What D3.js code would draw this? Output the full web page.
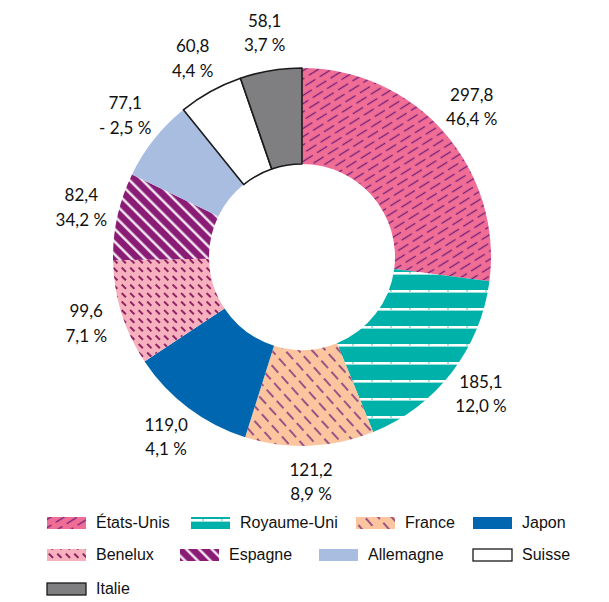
<!DOCTYPE html>
<html><head><meta charset="utf-8">
<script src="https://cdn.jsdelivr.net/npm/d3@7"></script>
<style>body{margin:0;background:#fff}</style>
</head><body>
<svg id="c" width="609" height="602"></svg>
<script>
const countries = ["États-Unis","Royaume-Uni","France","Japon","Benelux","Espagne","Allemagne","Suisse","Italie"];
const values = [297.8,185.1,121.2,119.0,99.6,82.4,77.1,60.8,58.1];
const growth = [46.4,12.0,8.9,4.1,7.1,34.2,-2.5,4.4,3.7];
const legendOrder = [["États-Unis","Royaume-Uni","France","Japon"],["Benelux","Espagne","Allemagne","Suisse"],["Italie"]];

const svg = d3.select("#c");
const defs = svg.append("defs");
const purple = "#74207a";

function pat(id, w, h, bg, rot, draw){
  const p = defs.append("pattern").attr("id",id).attr("patternUnits","userSpaceOnUse")
    .attr("width",w).attr("height",h);
  if(rot) p.attr("patternTransform","rotate("+rot+")");
  p.append("rect").attr("width",w).attr("height",h).attr("fill",bg);
  draw(p);
}
// USA: pink with purple "/" dashes
pat("p0",17,14,"#f06d95",-32,p=>{
  p.append("line").attr("x1",0).attr("x2",12).attr("y1",3.5).attr("y2",3.5).attr("stroke",purple).attr("stroke-width",1.3);
  p.append("line").attr("x1",8.5).attr("x2",17).attr("y1",10.5).attr("y2",10.5).attr("stroke",purple).attr("stroke-width",1.3);
  p.append("line").attr("x1",0).attr("x2",3.5).attr("y1",10.5).attr("y2",10.5).attr("stroke",purple).attr("stroke-width",1.3);
});
// UK: teal with white horizontal stripes
pat("p1",19,18,"#00b1aa",0,p=>{
  p.append("rect").attr("x",0).attr("y",15).attr("width",19).attr("height",2.6).attr("fill","#fff");
  p.append("rect").attr("x",12).attr("y",15).attr("width",2).attr("height",2.6).attr("fill","#a6e0dd");
});
// France: peach with purple "\" dashes
pat("p2",15,10,"#fbc59f",48,p=>{
  p.append("line").attr("x1",0).attr("x2",10).attr("y1",5).attr("y2",5).attr("stroke",purple).attr("stroke-width",1.4);
});
// Japon
pat("p3",10,10,"#0066b0",0,p=>{});
// Benelux: light pink with dark "\" short dashes
pat("p4",12,12,"#f7b1be",45,p=>{
  p.append("line").attr("x1",0).attr("x2",6).attr("y1",3).attr("y2",3).attr("stroke","#8a1a5e").attr("stroke-width",1.9);
  p.append("line").attr("x1",6).attr("x2",12).attr("y1",9).attr("y2",9).attr("stroke","#8a1a5e").attr("stroke-width",1.9);
});
// Espagne: purple with white "\" lines
pat("p5",10,9,"#8a1c76",45,p=>{
  p.append("rect").attr("x",0).attr("y",3.5).attr("width",10).attr("height",2.2).attr("fill","#fff");
});
pat("p6",10,10,"#a9bde1",0,p=>{});
pat("p7",10,10,"#ffffff",0,p=>{});
pat("p8",10,10,"#7f7f82",0,p=>{});

const fills = countries.map((c,i)=>"url(#p"+i+")");
const strokes = ["none","none","none","none","none","none","none","#1a1a1a","#1a1a1a"];
const color = d3.scaleOrdinal().domain(countries).range(fills);
const strokeScale = d3.scaleOrdinal().domain(countries).range(strokes);

const cx = 302, cy = 257, R = 189, r = 93, rl = 226;
const data = countries.map((c,i)=>({c, v:values[i], g:growth[i]}));
const pie = d3.pie().value(d=>d.v).sort(null);
const arc = d3.arc().innerRadius(r).outerRadius(R);
const labelArc = d3.arc().innerRadius(rl).outerRadius(rl);
const arcs = pie(data);

const g = svg.append("g").attr("transform",`translate(${cx},${cy})`);
g.selectAll("path").data(arcs).join("path")
  .attr("d",arc)
  .attr("fill",d=>color(d.data.c))
  .attr("stroke",d=>strokeScale(d.data.c))
  .attr("stroke-width",1.6)
  .attr("stroke-linejoin","round");

const fmt = v => d3.format(".1f")(Math.abs(v)).replace(".",",");
const lab = g.selectAll("text.lab").data(arcs).join("text").attr("class","lab")
  .attr("transform",d=>`translate(${labelArc.centroid(d)})`)
  .attr("text-anchor","middle")
  .attr("font-family","Lato, 'Open Sans', sans-serif")
  .attr("font-size",17).attr("fill","#111");
lab.append("tspan").attr("x",0).attr("dy","-0.4em").text(d=>fmt(d.data.v));
lab.append("tspan").attr("x",0).attr("dy","1.42em").text(d=>(d.data.g<0?"- ":"")+fmt(d.data.g)+" %");

// legend
const colX = [[47,191,356,473],[47,180,319,473],[47]];
const rowY = [517,549,583];
const leg = svg.append("g");
legendOrder.forEach((row,ri)=>{
  row.forEach((name,ci)=>{
    const x = colX[ri][ci], y = rowY[ri];
    leg.append("rect").attr("x",x).attr("y",y).attr("width",39).attr("height",12)
      .attr("fill",color(name))
      .attr("stroke",strokeScale(name)==="none"?"none":"#1a1a1a").attr("stroke-width",1.3);
    leg.append("text").attr("x",x+49).attr("y",y+11)
      .attr("font-family","'Liberation Sans', Arial, sans-serif").attr("font-size",16)
      .attr("fill","#111").text(name);
  });
});
</script>
</body></html>
